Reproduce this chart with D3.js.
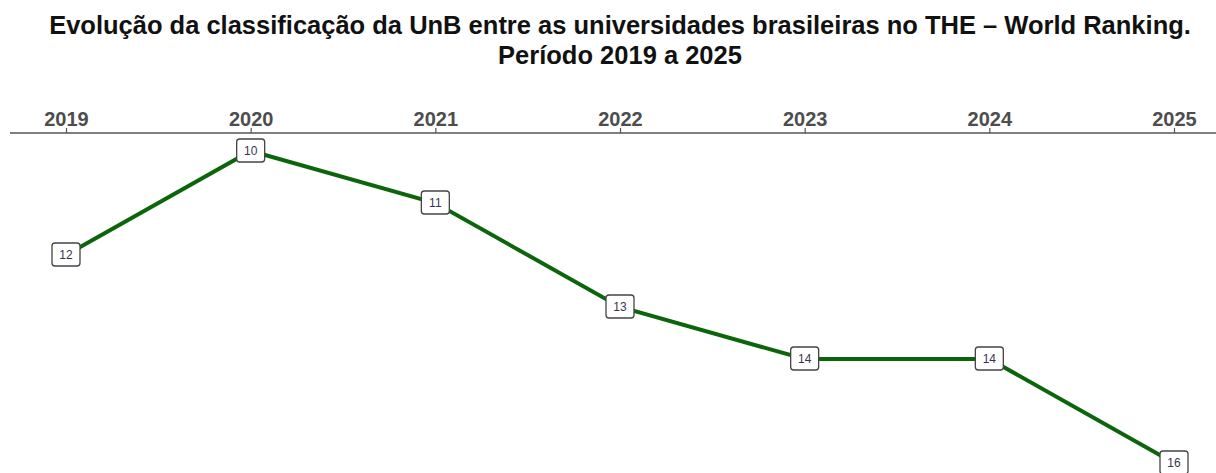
<!DOCTYPE html>
<html>
<head>
<meta charset="utf-8">
<script src="https://cdn.jsdelivr.net/npm/d3@7"></script>
<style>
  body { margin: 0; background: #fff; }
  text { font-family: "Liberation Sans", Arial, sans-serif; }
</style>
</head>
<body>
<div id="chart"></div>
<script>
// dados
const anos = [2019, 2020, 2021, 2022, 2023, 2024, 2025];
const posicao = [12, 10, 11, 13, 14, 14, 16];
const titulo = [
    "Evolução da classificação da UnB entre as universidades brasileiras no THE – World Ranking.",
    "Período 2019 a 2025"
];

const largura = 1216, altura = 473;
const svg = d3.select("#chart").append("svg")
    .attr("width", largura)
    .attr("height", altura);

// escalas
const x = d3.scalePoint()
    .domain(anos)
    .range([66, 1174]);

const y = d3.scaleLinear()
    .domain([10, 16])
    .range([151, 463]);

// titulo
svg.append("g").selectAll("text")
    .data(titulo)
    .enter().append("text")
    .attr("x", 620)
    .attr("y", (d, i) => 34 + i * 30)
    .attr("text-anchor", "middle")
    .style("font-size", "25.5px")
    .style("font-weight", "bold")
    .style("fill", "#111")
    .text(d => d);

// eixo superior
const eixo = svg.append("g")
    .attr("transform", "translate(0,133)")
    .call(d3.axisTop(x).tickSize(5).tickPadding(7));
eixo.select(".domain").remove();
eixo.insert("line", ":first-child")
    .attr("x1", 10).attr("x2", largura)
    .attr("stroke", "#555").attr("stroke-width", 1.5);
eixo.selectAll(".tick line").attr("stroke", "#555").attr("stroke-width", 1.2)
    .attr("y1", 0).attr("y2", -5);
eixo.selectAll(".tick text")
    .attr("y", -7)
    .attr("dy", 0)
    .style("font-size", "20px")
    .style("font-weight", "bold")
    .style("font-family", "'Liberation Sans', Arial, sans-serif")
    .style("fill", "#4d4d4d");

// linha
const linha = d3.line()
    .x((d, i) => x(anos[i]))
    .y(d => y(d));

svg.append("path")
    .datum(posicao)
    .attr("d", linha)
    .attr("fill", "none")
    .attr("stroke", "#0b650b")
    .attr("stroke-width", 4);

// rotulos
const rot = svg.append("g").selectAll("g")
    .data(posicao)
    .enter().append("g")
    .attr("transform", (d, i) => `translate(${x(anos[i])},${y(d)})`);

rot.append("rect")
    .attr("x", -14).attr("y", -12)
    .attr("width", 28).attr("height", 23)
    .attr("rx", 3)
    .attr("fill", "#fff")
    .attr("stroke", "#444")
    .attr("stroke-width", 1.3);

rot.append("text")
    .attr("text-anchor", "middle")
    .attr("dy", "0.35em")
    .style("font-size", "12px")
    .style("fill", "#3a3350")
    .text(d => d);
</script>
</body>
</html>
